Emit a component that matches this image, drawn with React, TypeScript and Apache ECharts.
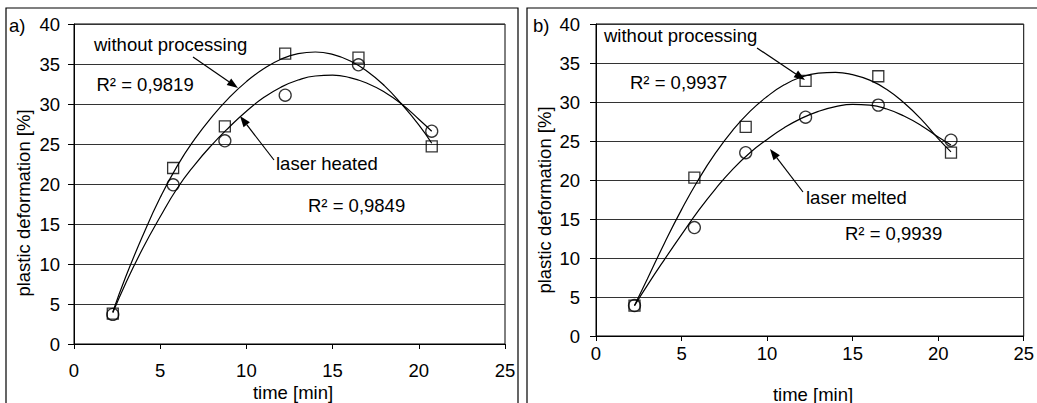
import React, { useEffect, useRef } from "react";
import * as echarts from "echarts";

// measured times [min]
const times = [2.25, 5.75, 8.75, 12.25, 16.5, 20.75];
// panel a)
const aWithout = [3.8, 22.0, 27.2, 36.3, 35.8, 24.7];
const aHeated = [3.7, 19.9, 25.4, 31.1, 34.9, 26.6];
// panel b)
const bWithout = [3.9, 20.3, 26.8, 32.7, 33.3, 23.5];
const bMelted = [3.9, 13.9, 23.5, 28.05, 29.6, 25.1];

// trendline curves
const trendX = [2.25, 3, 4, 5, 6, 7, 8, 9, 10, 11, 12, 13, 14, 15, 16, 17, 18, 19, 20, 20.75];
const aWithoutTrend = [4.0, 8.4, 13.6, 18.3, 22.3, 25.6, 28.4, 30.8, 32.8, 34.4, 35.6, 36.3, 36.5, 36.2, 35.4, 34.1, 32.3, 30.0, 27.4, 25.1];
const aHeatedTrend = [3.9, 7.6, 12.0, 15.9, 19.5, 22.4, 24.9, 27.1, 29.1, 30.8, 32.1, 33.0, 33.5, 33.6, 33.3, 32.6, 31.5, 30.0, 28.1, 26.6];
const bWithoutTrend = [3.9, 7.3, 11.9, 16.2, 20.1, 23.5, 26.4, 28.8, 30.7, 32.2, 33.2, 33.7, 33.8, 33.5, 32.8, 31.6, 29.9, 27.8, 25.3, 23.6];
const bMeltedTrend = [3.9, 6.5, 9.8, 13.0, 16.1, 18.9, 21.4, 23.5, 25.2, 26.7, 27.9, 28.8, 29.4, 29.7, 29.6, 29.1, 28.2, 27.0, 25.5, 24.5];

const xTicks = { min: 0, max: 25, interval: 5 };
const yTicks = { min: 0, max: 40, interval: 5 };

const FONT_FAMILY = '"Liberation Sans", Arial, sans-serif';
const FS = 18.5;
const FONT = `${FS}px ${FONT_FAMILY}`;

const zip = (xs: number[], ys: number[]) => xs.map((x, i) => [x, ys[i]]);

function text(t: string, x: number, y: number, align = "left", rotation = 0) {
  return {
    type: "text",
    x,
    y,
    rotation,
    style: { text: t, font: FONT, fill: "#000", align, verticalAlign: "middle" },
    z: 100,
  };
}

function arrow(x1: number, y1: number, x2: number, y2: number) {
  const dx = x2 - x1;
  const dy = y2 - y1;
  const len = Math.sqrt(dx * dx + dy * dy);
  const ux = dx / len;
  const uy = dy / len;
  const hl = 11;
  const hw = 4;
  const bx = x2 - ux * hl;
  const by = y2 - uy * hl;
  return [
    {
      type: "line",
      shape: { x1, y1, x2: bx, y2: by },
      style: { stroke: "#000", lineWidth: 1.2 },
      z: 100,
    },
    {
      type: "polygon",
      shape: {
        points: [
          [x2, y2],
          [bx - uy * hw, by + ux * hw],
          [bx + uy * hw, by - ux * hw],
        ],
      },
      style: { fill: "#000" },
      z: 100,
    },
  ];
}

export default function App() {
  const ref = useRef<HTMLDivElement>(null);
  useEffect(() => {
    if (!ref.current) return;
    const chart = echarts.init(ref.current, undefined, { renderer: "svg" });

    const axisLabel = { color: "#000", fontSize: FS, fontFamily: FONT_FAMILY };
    const mkX = (gridIndex: number, margin: number) => ({
      type: "value",
      gridIndex,
      ...xTicks,
      axisLine: { show: true, lineStyle: { color: "#000", width: 1 } },
      axisTick: { show: true, length: 5, lineStyle: { color: "#000" } },
      axisLabel: { ...axisLabel, margin },
      splitLine: { show: false },
    });
    const mkY = (gridIndex: number, margin: number) => ({
      type: "value",
      gridIndex,
      ...yTicks,
      axisLine: { show: true, lineStyle: { color: "#000", width: 1 } },
      axisTick: { show: true, length: 6, lineStyle: { color: "#000" } },
      axisLabel: { ...axisLabel, margin },
      splitLine: { show: true, lineStyle: { color: "#333", width: 1 } },
    });

    const scatter = (xi: number, data: number[][], symbol: string, size: number) => ({
      type: "scatter",
      xAxisIndex: xi,
      yAxisIndex: xi,
      data,
      symbol,
      symbolSize: size,
      itemStyle: { color: "rgba(0,0,0,0)", borderColor: "#000", borderWidth: 1.3 },
      z: 3,
    });
    const trend = (xi: number, data: number[][]) => ({
      type: "line",
      xAxisIndex: xi,
      yAxisIndex: xi,
      data,
      showSymbol: false,
      smooth: true,
      lineStyle: { color: "#000", width: 1.2 },
      z: 4,
    });

    chart.setOption({
      animation: false,
      backgroundColor: "#fff",
      grid: [
        { left: 74, top: 24, width: 431, height: 320, show: true, borderColor: "#000", borderWidth: 1 },
        { left: 596, top: 24, width: 432, height: 312, show: true, borderColor: "#000", borderWidth: 1 },
      ],
      xAxis: [mkX(0, 17), mkX(1, 8)],
      yAxis: [mkY(0, 14), mkY(1, 16)],
      series: [
        trend(0, zip(trendX, aWithoutTrend)),
        trend(0, zip(trendX, aHeatedTrend)),
        scatter(0, zip(times, aWithout), "rect", 11),
        scatter(0, zip(times, aHeated), "circle", 12),
        trend(1, zip(trendX, bWithoutTrend)),
        trend(1, zip(trendX, bMeltedTrend)),
        scatter(1, zip(times, bWithout), "rect", 11),
        scatter(1, zip(times, bMelted), "circle", 12),
      ],
      graphic: [
        { type: "rect", shape: { x: 6, y: 8, width: 512, height: 420 }, style: { fill: "none", stroke: "#000", lineWidth: 1.2 }, z: 100 },
        { type: "rect", shape: { x: 527, y: 8, width: 560, height: 420 }, style: { fill: "none", stroke: "#000", lineWidth: 1.2 }, z: 100 },
        text("a)", 9, 25),
        text("b)", 533, 25),
        text("plastic deformation [%]", 23, 203, "center", Math.PI / 2),
        text("plastic deformation [%]", 544, 200, "center", Math.PI / 2),
        text("time [min]", 293, 392, "center"),
        text("time [min]", 813, 394, "center"),
        text("without processing", 94, 44),
        text("R² = 0,9819", 96.5, 84),
        text("laser heated", 276, 163),
        text("R² = 0,9849", 308, 205),
        text("without processing", 604, 35),
        text("R² = 0,9937", 630, 82),
        text("laser melted", 806, 197),
        text("R² = 0,9939", 845, 233),
        ...arrow(193, 57, 238, 88),
        ...arrow(274, 160, 240, 116),
        ...arrow(757, 48, 805, 80),
        ...arrow(803, 192, 770, 149),
      ],
    });
    return () => chart.dispose();
  }, []);
  return (
    <div
      ref={ref}
      style={{ position: "fixed", left: 0, top: 0, width: 1037, height: 403 }}
    />
  );
}
